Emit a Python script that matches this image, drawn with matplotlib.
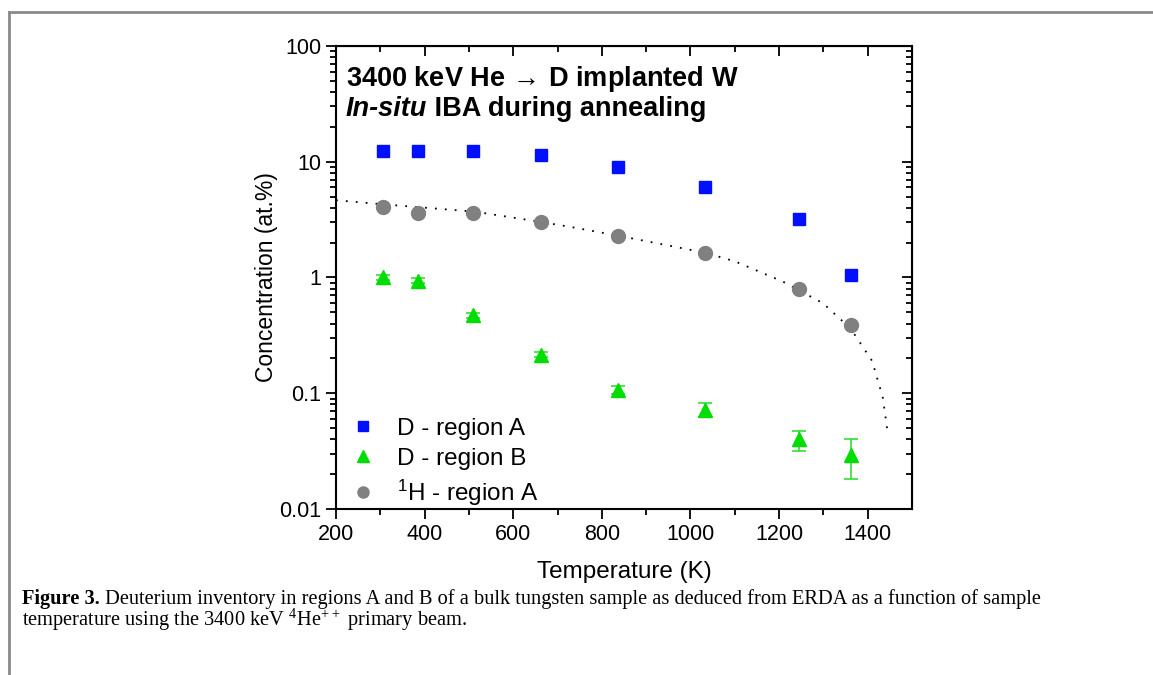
import numpy as np
import matplotlib
matplotlib.use("Agg")
import matplotlib.pyplot as plt
from matplotlib.lines import Line2D

plt.rcParams['font.family'] = ['Liberation Sans', 'DejaVu Sans']
plt.rcParams['mathtext.default'] = 'regular'

# data
temp = [305, 385, 510, 662, 836, 1032, 1246, 1363]
d_region_a = [12.4, 12.3, 12.3, 11.5, 9.0, 6.0, 3.23, 1.06]
d_region_b = [1.0, 0.94, 0.47, 0.215, 0.107, 0.072, 0.040, 0.029]
d_b_low = [0.95, 0.90, 0.45, 0.205, 0.099, 0.062, 0.032, 0.018]
d_b_high = [1.05, 0.99, 0.49, 0.225, 0.115, 0.082, 0.047, 0.040]
h_region_a = [4.09, 3.63, 3.63, 3.0, 2.3, 1.64, 0.80, 0.39]

# dotted fit curve
fit_t = [200, 315, 514, 667, 737, 836, 1032, 1100, 1209, 1299, 1362, 1410, 1434, 1446]
fit_y = [4.65, 4.26, 3.7, 3.0, 2.7, 2.3, 1.64, 1.38, 0.92, 0.6, 0.36, 0.19, 0.092, 0.043]

xticks = [200, 400, 600, 800, 1000, 1200, 1400]
yticks = [0.01, 0.1, 1, 10, 100]
ytick_labels = ["0.01", "0.1", "1", "10", "100"]

fig = plt.figure(figsize=(11.53, 6.75), dpi=100)
ax = fig.add_axes([0.2914, 0.2459, 0.4996, 0.686])

blue = '#0010ff'
green = '#00dd00'
grey = '#808080'

ax.plot(fit_t, fit_y, color='black', linestyle=(0, (1, 4.5)), linewidth=1.3, zorder=1)
ax.plot(temp, d_region_a, 's', color=blue, markersize=8, zorder=3)
yerr = [np.array(d_region_b) - np.array(d_b_low), np.array(d_b_high) - np.array(d_region_b)]
ax.errorbar(temp, d_region_b, yerr=yerr, fmt='^', color=green, markersize=10,
            ecolor='#33dd33', elinewidth=1.2, capsize=5, capthick=1.2, zorder=3)
ax.plot(temp, h_region_a, 'o', color=grey, markersize=10, zorder=3)

ax.set_yscale('log')
ax.set_xlim(200, 1500)
ax.set_ylim(0.01, 100)
ax.set_xticks(xticks)
ax.set_xticks(np.arange(300, 1500, 200), minor=True)
ax.set_yticks(yticks)
ax.set_yticklabels(ytick_labels)
ax.tick_params(which='both', labelsize=15.5, width=1.3, direction='out')
ax.tick_params(which='major', length=7)
ax.tick_params(which='minor', length=4)
for s in ax.spines.values():
    s.set_linewidth(1.5)

# top/right ticks point inward
top = ax.secondary_xaxis('top')
top.set_xticks(xticks + [1500])
top.set_xticks(np.arange(300, 1500, 200), minor=True)
top.tick_params(which='both', direction='in', labeltop=False, width=1.3)
top.tick_params(which='major', length=7)
top.tick_params(which='minor', length=4)
right = ax.secondary_yaxis('right')
right.set_yticks(yticks)
right.tick_params(which='both', direction='in', labelright=False, width=1.3)
right.tick_params(which='major', length=7)
right.tick_params(which='minor', length=4)

ax.set_xlabel('Temperature (K)', fontsize=17.5, labelpad=12)
ax.set_ylabel('Concentration (at.%)', fontsize=16.5, labelpad=1)

ax.text(0.0174, 0.9136, r'3400 keV He $\!\rightarrow\!$ D implanted W', transform=ax.transAxes,
        fontsize=19.5, fontweight='bold', va='baseline', ha='left')
t1 = ax.text(0.0174, 0.849, 'In-situ', transform=ax.transAxes,
             fontsize=19.5, fontweight='bold', fontstyle='italic', va='baseline', ha='left')
ax.annotate(' IBA during annealing', xy=(1, 0), xycoords=t1, fontsize=19.5,
            fontweight='bold', va='bottom', ha='left')

handles = [
    Line2D([], [], marker='s', color=blue, linestyle='none', markersize=7),
    Line2D([], [], marker='^', color=green, linestyle='none', markersize=9),
    Line2D([], [], marker='o', color=grey, linestyle='none', markersize=8),
]
ax.legend(handles, ['D - region A', 'D - region B', '$^{1}$H - region A'],
          loc='lower left', bbox_to_anchor=(0.026, 0.002), frameon=False,
          fontsize=17.5, handlelength=1.0, handletextpad=0.9, labelspacing=0.33,
          borderpad=0, borderaxespad=0)

# page frame and caption
fig.add_artist(Line2D([9 / 1153, 1], [1 - 12 / 675, 1 - 12 / 675], color='#8a8a8a', linewidth=2))
fig.add_artist(Line2D([9 / 1153, 9 / 1153], [0, 1 - 12 / 675], color='#8a8a8a', linewidth=2))
cap1 = fig.text(22 / 1153, 1 - 604 / 675, 'Figure 3.', family='Liberation Serif',
                fontsize=14.7, fontweight='bold', va='baseline', ha='left')
ax.annotate(' Deuterium inventory in regions A and B of a bulk tungsten sample as deduced from ERDA as a function of sample',
            xy=(1, 0), xycoords=cap1, family='Liberation Serif', fontsize=14.7,
            va='bottom', ha='left', annotation_clip=False)
fig.text(22 / 1153, 1 - 626 / 675, 'temperature using the 3400 keV $^{4}$He$^{++}$ primary beam.',
         family='Liberation Serif', fontsize=14.7, va='baseline', ha='left')

fig.savefig('out.png', dpi=100)
